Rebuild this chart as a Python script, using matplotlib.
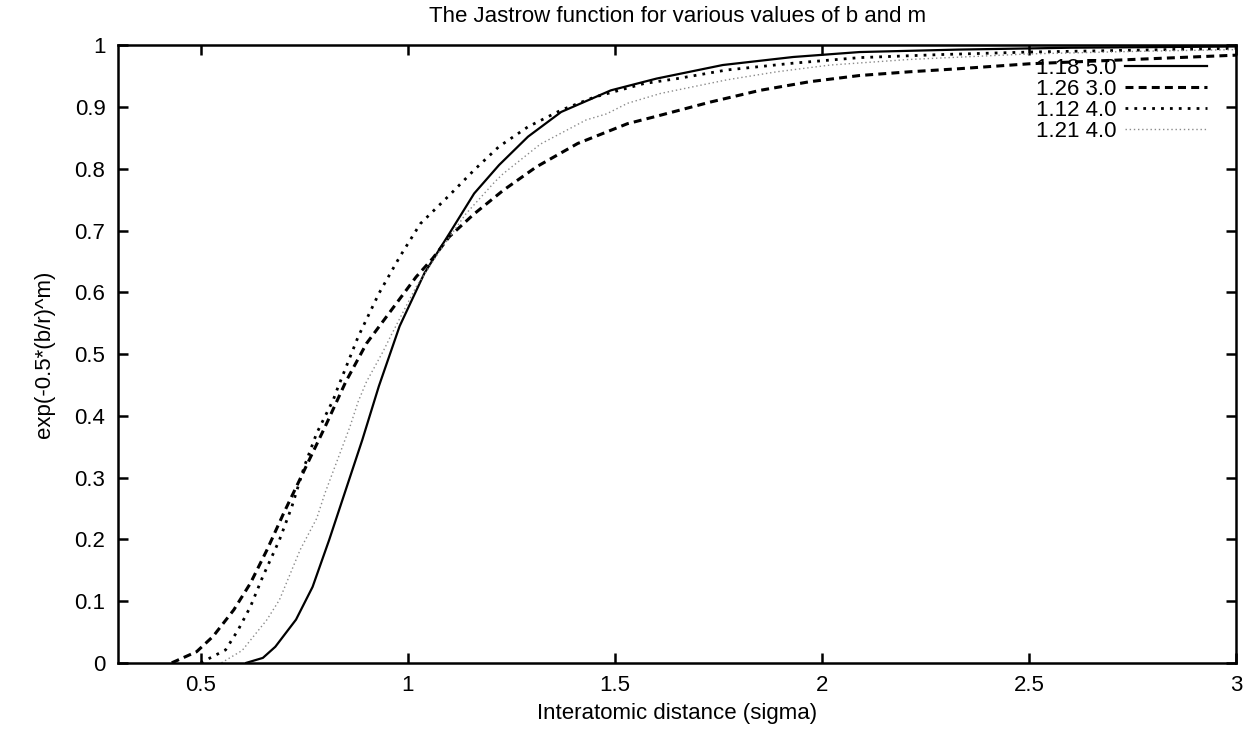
import matplotlib
matplotlib.use("Agg")
import matplotlib.pyplot as plt

x_118_5 = [0.61, 0.65, 0.68, 0.73, 0.77, 0.81, 0.85, 0.89, 0.93, 0.98, 1.04, 1.10, 1.16,
           1.22, 1.29, 1.37, 1.49, 1.60, 1.76, 1.93, 2.09, 2.33, 2.60, 3.00]
y_118_5 = [0.0, 0.008, 0.026, 0.070, 0.123, 0.199, 0.280, 0.361, 0.448, 0.545, 0.631, 0.695, 0.760,
           0.806, 0.852, 0.892, 0.927, 0.946, 0.968, 0.981, 0.989, 0.993, 0.996, 0.998]

x_126_3 = [0.43, 0.49, 0.53, 0.58, 0.62, 0.66, 0.70, 0.75, 0.80, 0.85, 0.90, 0.96, 1.02, 1.06, 1.10,
           1.16, 1.23, 1.31, 1.41, 1.53, 1.60, 1.73, 1.85, 1.97, 2.09, 2.21, 2.33, 2.50, 2.75, 3.00]
y_126_3 = [0.0, 0.018, 0.043, 0.086, 0.129, 0.183, 0.242, 0.312, 0.382, 0.455, 0.517, 0.571, 0.625, 0.655, 0.690,
           0.727, 0.765, 0.803, 0.841, 0.873, 0.885, 0.908, 0.927, 0.941, 0.951, 0.957, 0.962, 0.970, 0.977, 0.984]

x_112_4 = [0.50, 0.56, 0.59, 0.62, 0.65, 0.69, 0.72, 0.75, 0.78, 0.82, 0.83, 0.88, 0.93, 0.98, 1.03,
           1.10, 1.16, 1.22, 1.29, 1.37, 1.45, 1.57, 1.65, 1.77, 1.93, 2.09, 2.29, 2.50, 2.75, 3.00]
y_112_4 = [0.0, 0.021, 0.053, 0.091, 0.140, 0.199, 0.253, 0.318, 0.372, 0.426, 0.444, 0.528, 0.598, 0.657, 0.711,
           0.757, 0.798, 0.836, 0.868, 0.895, 0.916, 0.938, 0.946, 0.960, 0.971, 0.980, 0.985, 0.989, 0.992, 0.995]

x_121_4 = [0.55, 0.60, 0.66, 0.69, 0.74, 0.78, 0.80, 0.86, 0.88, 0.90, 0.94, 0.96, 1.02, 1.08, 1.14,
           1.21, 1.23, 1.32, 1.43, 1.48, 1.53, 1.61, 1.77, 1.89, 2.02, 2.21, 2.50, 2.75, 3.00]
y_121_4 = [0.0, 0.020, 0.070, 0.102, 0.183, 0.234, 0.275, 0.382, 0.423, 0.455, 0.504, 0.531, 0.609, 0.670, 0.727,
           0.779, 0.792, 0.840, 0.879, 0.889, 0.906, 0.922, 0.944, 0.957, 0.968, 0.977, 0.986, 0.990, 0.993]

labels = ["1.18 5.0", "1.26 3.0", "1.12 4.0", "1.21 4.0"]
xticks = [0.5, 1, 1.5, 2, 2.5, 3]
xtick_labels = ["0.5", "1", "1.5", "2", "2.5", "3"]
yticks = [0, 0.1, 0.2, 0.3, 0.4, 0.5, 0.6, 0.7, 0.8, 0.9, 1]
ytick_labels = ["0", "0.1", "0.2", "0.3", "0.4", "0.5", "0.6", "0.7", "0.8", "0.9", "1"]

plt.rcParams['font.family'] = ['Liberation Sans', 'DejaVu Sans']
fs = 16

fig = plt.figure(figsize=(12.54, 7.30), dpi=100)
ax = fig.add_axes([0.094, 0.092, 0.892, 0.846])

ax.plot(x_118_5, y_118_5, color='black', lw=1.6, ls='-', label=labels[0])
ax.plot(x_126_3, y_126_3, color='black', lw=2.2, ls=(0, (2.6, 1.7)), label=labels[1])
ax.plot(x_112_4, y_112_4, color='black', lw=2.0, ls=(0, (1, 2.2)), label=labels[2])
ax.plot(x_121_4, y_121_4, color='#8a8a8a', lw=1.0, ls=(0, (1, 2)), label=labels[3])

ax.set_xlim(0.3, 3)
ax.set_ylim(0, 1)
ax.set_xticks(xticks, xtick_labels)
ax.set_yticks(yticks, ytick_labels)
ax.tick_params(direction='in', length=7, width=1.8, top=True, right=True,
               labelsize=fs, pad=9)
for s in ax.spines.values():
    s.set_linewidth(1.8)

ax.set_title("The Jastrow function for various values of b and m", fontsize=fs, pad=17)
ax.set_xlabel("Interatomic distance (sigma)", fontsize=fs, labelpad=5)
ax.set_ylabel("exp(-0.5*(b/r)^m)", fontsize=fs, labelpad=14)

# key sits inside the top right corner, text before the line sample
ax.legend(loc='upper right', bbox_to_anchor=(0.974, 0.980), frameon=False, fontsize=fs,
          markerfirst=False, handlelength=3.7, handletextpad=0.4, labelspacing=0.0,
          borderaxespad=0, borderpad=0)

fig.savefig("out.png", dpi=100)
